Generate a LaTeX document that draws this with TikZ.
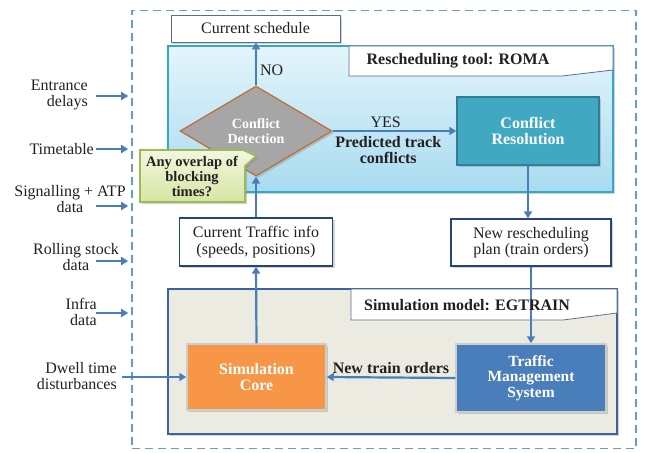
\documentclass[tikz,border=0pt]{standalone}
\usepackage{fontspec}
\setmainfont{Liberation Serif}
\usetikzlibrary{shapes.geometric,shadows,arrows.meta}

\definecolor{flowblue}{RGB}{74,126,187}
\definecolor{dashblue}{RGB}{98,158,214}
\definecolor{romaedge}{RGB}{52,168,202}
\definecolor{romatop}{RGB}{228,245,252}
\definecolor{romabot}{RGB}{168,219,240}
\definecolor{simfill}{RGB}{236,235,226}
\definecolor{simedge}{RGB}{61,98,160}
\definecolor{tabedge}{RGB}{90,110,150}
\definecolor{boxedge}{RGB}{35,70,120}
\definecolor{detfill}{RGB}{166,166,166}
\definecolor{detedge}{RGB}{190,110,50}
\definecolor{resfill}{RGB}{65,168,194}
\definecolor{resedge}{RGB}{45,128,150}
\definecolor{corefill}{RGB}{246,150,70}
\definecolor{lightedge}{RGB}{205,205,205}
\definecolor{notetop}{RGB}{242,247,222}
\definecolor{notebot}{RGB}{214,229,164}
\definecolor{noteedge}{RGB}{155,187,89}
\definecolor{ink}{RGB}{35,31,32}

\newcommand{\plainfont}{\fontsize{16}{16.5}\selectfont}
\newcommand{\headfont}{\fontsize{16}{16.5}\selectfont\bfseries}

\tikzset{
  shade/.style={drop shadow={shadow xshift=2pt,shadow yshift=-2pt,opacity=0.35}},
  flow/.style={draw=flowblue, line width=2.2pt, -{Triangle[width=8pt,length=7pt]}},
  infobox/.style={draw=boxedge, line width=1.2pt, fill=white, inner sep=0pt,
    align=center, font=\plainfont, text=ink, shade},
  colbox/.style={line width=1.5pt, inner sep=0pt, align=center,
    font=\headfont, text=white, shade},
  lbl/.style={font=\plainfont, text=ink, inner sep=1pt},
  tab/.style={fill=white, draw=tabedge, line width=0.8pt}
}

\begin{document}
\begin{tikzpicture}[x=1pt,y=-1pt]
\useasboundingbox (0,0) rectangle (647,452);

% Drawing outer border
\node[draw=dashblue, line width=1.6pt, dash pattern=on 8pt off 5pt,
      minimum width=504pt, minimum height=438pt] (sys) at (384,229.5) {};

% Drawing panel ROMA
\node[draw=romaedge, line width=1.6pt, top color=romatop, bottom color=romabot,
      minimum width=445pt, minimum height=146pt, shade] (roma) at (390.5,119) {};
\filldraw[tab] (349,46) -- (613,46) -- (613,70) -- (562,76) -- (349,76) -- cycle;

% Drawing panel EGTRAIN
\node[draw=simedge, line width=1.6pt, fill=simfill,
      minimum width=449pt, minimum height=145pt, shade] (egtrain) at (392.5,361.5) {};
\filldraw[tab] (351,289) -- (617,289) -- (617,313) -- (563,320) -- (351,320) -- cycle;

% Placing boxes
\node[infobox, draw=tabedge, line width=0.8pt, minimum width=169pt, minimum height=27pt]
  (sched) at (255.5,28.5) {Current schedule};
\node[shape=diamond, draw=detedge, line width=1.2pt, fill=detfill, inner sep=0pt,
      minimum width=152pt, minimum height=90pt, align=center, text=white,
      font=\fontsize{14}{15}\selectfont\bfseries, shade]
  (det) at (256,131) {Conflict\\Detection};
\node[colbox, draw=resedge, fill=resfill, minimum width=142pt, minimum height=68pt]
  (res) at (528,131) {Conflict\\Resolution};
\node[infobox, minimum width=153pt, minimum height=48pt]
  (info) at (256,242) {Current Traffic info\\(speeds, positions)};
\node[infobox, minimum width=160pt, minimum height=47pt]
  (plan) at (531,242.5) {New rescheduling\\plan (train orders)};
\node[colbox, draw=lightedge, fill=corefill, minimum width=139pt, minimum height=66pt]
  (core) at (256.5,377) {Simulation\\Core};
\node[colbox, draw=lightedge, fill=flowblue, minimum width=150pt, minimum height=68pt,
      font=\fontsize{15.5}{15.5}\selectfont\bfseries]
  (tms) at (531,378) {Traffic\\Management\\System};

% Drawing connectors
\draw[flow] (det.north) -- (det.north |- sched.south)
  node[lbl, pos=0.36, right=2pt] (no) {NO};
\draw[flow] (det.east) -- (res.west)
  node[lbl, pos=0.43, above=1pt] (yes) {YES}
  node[lbl, pos=0.45, below=3pt, align=center, font=\headfont, text=ink] (pred) {Predicted track\\conflicts};
\draw[flow] (res.south) -- (res.south |- plan.north);
\draw[flow] (plan.south) -- (plan.south |- tms.north);
\draw[flow] (tms.west) -- (core.east)
  node[lbl, midway, above=2pt, font=\headfont] (orders) {New train orders};
\draw[flow] (core.north) -- (info.south);
\draw[flow] (info.north) -- (det.south);

% Drawing panel titles
\node[lbl, font=\headfont] (romatitle) at (458,61) {Rescheduling tool: ROMA};
\node[lbl, font=\headfont] (simtitle) at (467,305) {Simulation model: EGTRAIN};

% Drawing note
\filldraw[draw=noteedge, line width=1.6pt, top color=notetop, bottom color=notebot, shade]
  (140,150) -- (243,150) -- (256,156) -- (245,166) -- (245,202) -- (140,202) -- cycle;
\node[lbl, align=center, font=\fontsize{14.5}{15}\selectfont\bfseries] (note) at (192,176)
  {Any overlap of\\blocking\\times?};

% Drawing inputs
\node[lbl, anchor=east, align=right] (entr) at (89,95) {Entrance\\delays};
\node[lbl, anchor=east] (tt) at (95,149) {Timetable};
\node[lbl, align=center] (sig) at (70,199) {Signalling + ATP\\data};
\node[lbl, align=center] (rs) at (76,257) {Rolling stock\\data};
\node[lbl, anchor=east, align=right] (infra) at (98,312) {Infra\\data};
\node[lbl, anchor=east, align=right] (dwell) at (118,376) {Dwell time\\disturbances};
\foreach \y [count=\i] in {96,149,206,261,313} {
  \coordinate (in\i) at (96,\y);
  \draw[flow, shorten >=3pt] (in\i) -- (in\i -| sys.west);
}
\coordinate (dw) at (122,377);
\draw[flow] (dw) -- (core.west);
\end{tikzpicture}
\end{document}
